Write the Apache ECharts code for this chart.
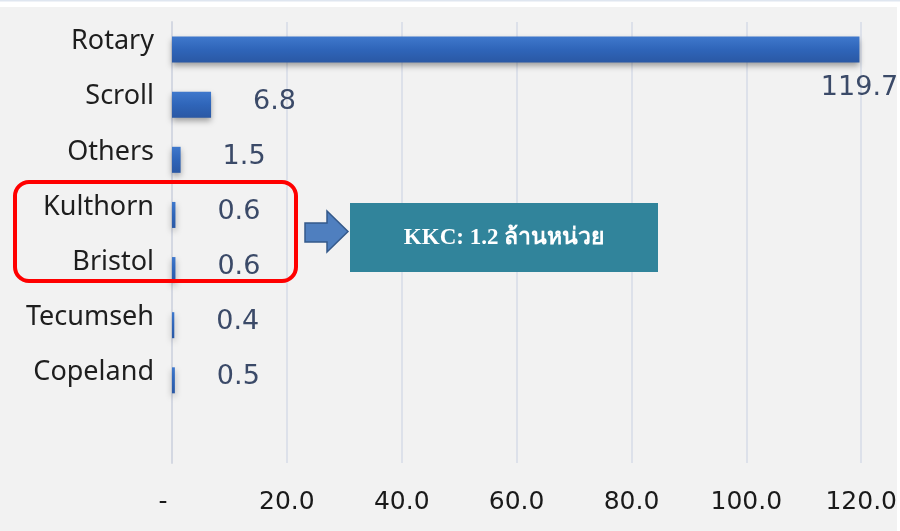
<!DOCTYPE html>
<html>
<head>
<meta charset="utf-8">
<script src="https://cdn.jsdelivr.net/npm/echarts@6/dist/echarts.min.js"></script>
<style>
  html, body { margin: 0; padding: 0; background: #fff; }
  #main { width: 900px; height: 531px; }
</style>
</head>
<body>
<div id="main"></div>
<script>
// compressor shipments by type / brand (million units)
var categories = ['Rotary', 'Scroll', 'Others', 'Kulthorn', 'Bristol', 'Tecumseh', 'Copeland', ''];
var units = [119.7, 6.8, 1.5, 0.6, 0.6, 0.4, 0.5, null];
var xMin = 0, xMax = 120, xStep = 20;
var noteText = 'KKC: 1.2 ล้านหน่วย';

var myChart = echarts.init(document.getElementById('main'));

// the biggest bar has its label under the bar end, the others sit to the right
var barData = units.map(function (v, i) {
    if (i === 0) {
        return {
            value: v,
            label: { position: ['100%', 51], align: 'center', verticalAlign: 'middle', offset: [0, 0] }
        };
    }
    return v;
});

var option = {
    backgroundColor: '#f2f2f2',
    animation: false,
    grid: { left: 172, right: 38, top: 22, bottom: 68 },
    xAxis: {
        type: 'value',
        min: xMin,
        max: xMax,
        interval: xStep,
        axisLine: { show: false },
        axisTick: { show: false },
        splitLine: { lineStyle: { color: '#dde1ea', width: 2 } },
        axisLabel: {
            margin: 27,
            color: '#1a1a1a',
            fontFamily: 'DejaVu Sans',
            fontSize: 25,
            formatter: function (v) {
                return v === 0 ? '{d|-}' : v.toFixed(1);
            },
            rich: { d: { fontFamily: 'DejaVu Sans', fontSize: 25, color: '#1a1a1a', padding: [0, 18, 0, 0] } }
        }
    },
    yAxis: {
        type: 'category',
        inverse: true,
        data: categories,
        axisLine: { show: true, lineStyle: { color: '#d4d8e2', width: 2 } },
        axisTick: { show: false },
        axisLabel: {
            margin: 18,
            color: '#1e1e1e',
            fontFamily: 'Noto Sans',
            fontSize: 27,
            verticalAlign: 'bottom',
            lineHeight: 16
        }
    },
    series: [{
        type: 'bar',
        data: barData,
        barWidth: 26,
        itemStyle: {
            color: new echarts.graphic.LinearGradient(0, 0, 0, 1, [
                { offset: 0, color: '#3f78cc' },
                { offset: 0.5, color: '#2f65b9' },
                { offset: 1, color: '#2a58a4' }
            ]),
            shadowColor: 'rgba(0,0,0,0.35)',
            shadowBlur: 6,
            shadowOffsetY: 3
        },
        label: {
            show: true,
            position: 'right',
            distance: 42,
            offset: [0, -3],
            color: '#3b4a68',
            fontFamily: 'DejaVu Sans',
            fontSize: 27,
            formatter: function (p) { return p.value == null ? '' : p.value.toFixed(1); }
        }
    }],
    graphic: [
        // white frame strips
        { type: 'rect', shape: { x: 0, y: 0, width: 900, height: 7 }, style: { fill: '#ffffff' }, z: 100 },
        { type: 'rect', shape: { x: 0, y: 0, width: 900, height: 1.5 }, style: { fill: '#dfe6f0' }, z: 101 },
        { type: 'rect', shape: { x: 897, y: 0, width: 3, height: 531 }, style: { fill: '#ffffff' }, z: 100 },
        // red highlight around Kulthorn / Bristol
        {
            type: 'rect',
            shape: { x: 15, y: 182, width: 281, height: 99, r: 14 },
            style: { fill: 'none', stroke: '#ff0000', lineWidth: 4 },
            z: 100
        },
        // arrow
        {
            type: 'polygon',
            shape: { points: [[305, 223], [327, 223], [327, 211], [348, 231.5], [327, 252], [327, 242], [305, 242]] },
            style: { fill: '#4f7fbf', stroke: '#34598a', lineWidth: 1.5 },
            z: 100
        },
        // teal note box
        {
            type: 'rect',
            shape: { x: 350, y: 203, width: 308, height: 69 },
            style: { fill: '#31849b' },
            z: 100
        },
        {
            type: 'text',
            x: 504, y: 238,
            style: {
                text: noteText,
                fill: '#ffffff',
                font: 'bold 23px "Liberation Serif", serif',
                align: 'center',
                verticalAlign: 'middle'
            },
            z: 101
        }
    ]
};

myChart.setOption(option);
</script>
</body>
</html>
